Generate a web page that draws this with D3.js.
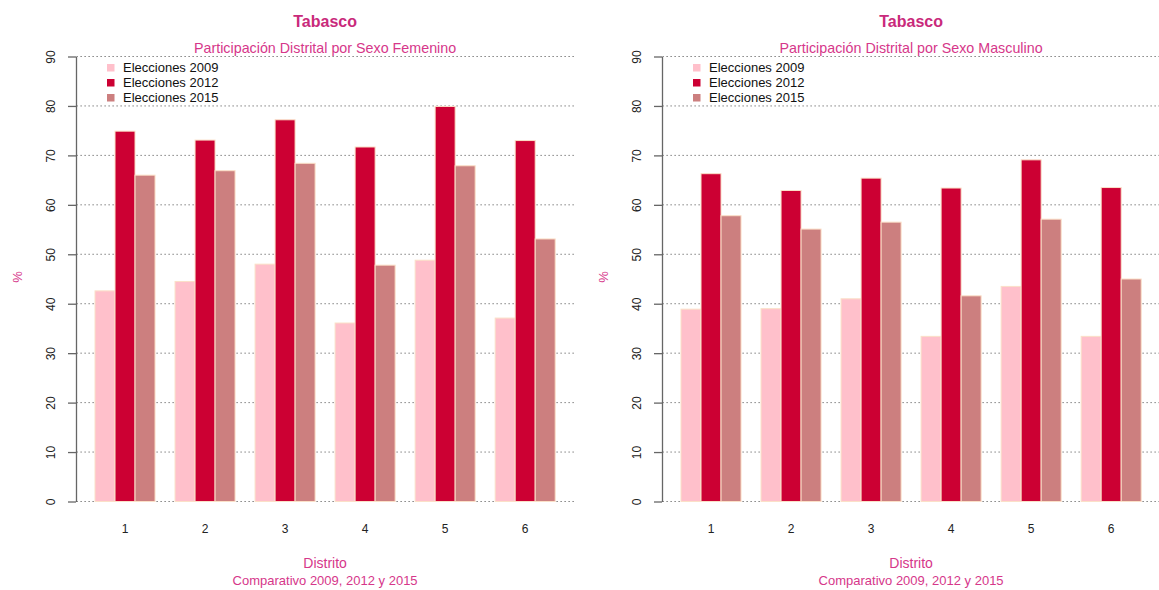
<!DOCTYPE html>
<html>
<head>
<meta charset="utf-8">
<script src="https://cdn.jsdelivr.net/npm/d3@7"></script>
<style>
  body { margin: 0; background: #fff; }
  svg { display: block; font-family: "Liberation Sans", Arial, sans-serif; }
</style>
</head>
<body>
<div id="chart"></div>
<script>
// datos
var distritos = ["1", "2", "3", "4", "5", "6"];
var series = ["Elecciones 2009", "Elecciones 2012", "Elecciones 2015"];
var yTicks = [0, 10, 20, 30, 40, 50, 60, 70, 80, 90];

// participacion femenina (%)
var fem2009 = [42.6, 44.5, 48.0, 36.1, 48.8, 37.1];
var fem2012 = [74.9, 73.1, 77.2, 71.7, 79.9, 73.0];
var fem2015 = [66.0, 66.9, 68.4, 47.8, 67.9, 53.1];

// participacion masculina (%)
var mas2009 = [38.9, 39.0, 41.0, 33.4, 43.5, 33.4];
var mas2012 = [66.3, 62.9, 65.4, 63.4, 69.1, 63.5];
var mas2015 = [57.8, 55.1, 56.5, 41.6, 57.1, 45.0];

var colores = ["#ffc0cb", "#cc0033", "#cc7f7f"];
var titleColor = "#c92a7b";
var labelColor = "#d6378a";

var W = 1159, H = 590;

var svg = d3.select("#chart")
    .append("svg")
    .attr("width", W)
    .attr("height", H);

function panel(offsetX, subtitulo, valores) {

    var g = svg.append("g")
        .attr("transform", "translate(" + offsetX + ",0)");

    // plot region (R barplot style)
    var left = 76.6, right = 573.6;

    var x0 = d3.scaleBand()
        .domain(distritos)
        .range([left, right])
        .paddingInner(0.25)
        .paddingOuter(0.23);

    var x1 = d3.scaleBand()
        .domain(series)
        .range([0, x0.bandwidth()]);

    var y = d3.scaleLinear()
        .domain([0, 90])
        .range([501.5, 56.5]);

    // dotted grid lines
    g.selectAll(".grid")
        .data(yTicks)
        .enter()
        .append("line")
        .attr("x1", left)
        .attr("x2", right)
        .attr("y1", function (d) { return y(d); })
        .attr("y2", function (d) { return y(d); })
        .attr("stroke", "#444")
        .attr("stroke-width", 1)
        .attr("stroke-dasharray", "1,3");

    // bars
    var rows = distritos.map(function (d, i) {
        return series.map(function (s, j) {
            return { distrito: d, serie: s, value: valores[j][i], color: colores[j] };
        });
    });

    g.selectAll(".grupo")
        .data(rows)
        .enter()
        .append("g")
        .attr("transform", function (d) { return "translate(" + x0(d[0].distrito) + ",0)"; })
        .selectAll("rect")
        .data(function (d) { return d; })
        .enter()
        .append("rect")
        .attr("x", function (d) { return x1(d.serie); })
        .attr("width", x1.bandwidth())
        .attr("y", function (d) { return y(d.value); })
        .attr("height", function (d) { return y(0) - y(d.value); })
        .attr("fill", function (d) { return d.color; })
        .attr("stroke", "#fbe0c8")
        .attr("stroke-width", 1);

    // y axis
    var yAxis = g.append("g")
        .attr("transform", "translate(76,0)")
        .call(d3.axisLeft(y).tickValues(yTicks).tickSize(8).tickSizeOuter(0));

    yAxis.select(".domain").attr("stroke", "#666").attr("stroke-width", 1.3);
    yAxis.selectAll(".tick line").attr("stroke", "#666").attr("stroke-width", 1.3);
    yAxis.selectAll(".tick text")
        .attr("x", null)
        .attr("dy", null)
        .attr("transform", "translate(-25,0) rotate(-90)")
        .attr("text-anchor", "middle")
        .attr("dominant-baseline", "central")
        .attr("fill", "#222")
        .style("font-size", "12px")
        .style("font-family", "Liberation Sans, Arial, sans-serif");

    // x labels (no axis line)
    g.selectAll(".xlab")
        .data(distritos)
        .enter()
        .append("text")
        .attr("x", function (d) { return x0(d) + x0.bandwidth() / 2; })
        .attr("y", 533)
        .attr("text-anchor", "middle")
        .attr("fill", "#222")
        .style("font-size", "12px")
        .text(function (d) { return d; });

    var cx = (left + right) / 2;

    // titles
    g.append("text")
        .attr("x", cx)
        .attr("y", 27)
        .attr("text-anchor", "middle")
        .attr("fill", titleColor)
        .style("font-size", "16px")
        .style("font-weight", "bold")
        .text("Tabasco");

    g.append("text")
        .attr("x", cx)
        .attr("y", 52.5)
        .attr("text-anchor", "middle")
        .attr("fill", labelColor)
        .style("font-size", "14.3px")
        .text(subtitulo);

    g.append("text")
        .attr("x", cx)
        .attr("y", 568)
        .attr("text-anchor", "middle")
        .attr("fill", labelColor)
        .style("font-size", "14px")
        .text("Distrito");

    g.append("text")
        .attr("x", cx)
        .attr("y", 585)
        .attr("text-anchor", "middle")
        .attr("fill", labelColor)
        .style("font-size", "13px")
        .text("Comparativo 2009, 2012 y 2015");

    g.append("text")
        .attr("transform", "translate(17,277) rotate(-90)")
        .attr("text-anchor", "middle")
        .attr("dominant-baseline", "central")
        .attr("fill", labelColor)
        .style("font-size", "13px")
        .text("%");

    // legend
    var leg = g.selectAll(".leg")
        .data(series)
        .enter()
        .append("g")
        .attr("transform", function (d, i) { return "translate(107," + (64 + i * 15) + ")"; });

    leg.append("rect")
        .attr("width", 7.5)
        .attr("height", 7.5)
        .attr("fill", function (d, i) { return colores[i]; });

    leg.append("text")
        .attr("x", 16)
        .attr("y", 8.3)
        .attr("fill", "#111")
        .style("font-size", "13px")
        .text(function (d) { return d; });
}

panel(0, "Participación Distrital por Sexo Femenino", [fem2009, fem2012, fem2015]);
panel(586, "Participación Distrital por Sexo Masculino", [mas2009, mas2012, mas2015]);
</script>
</body>
</html>
